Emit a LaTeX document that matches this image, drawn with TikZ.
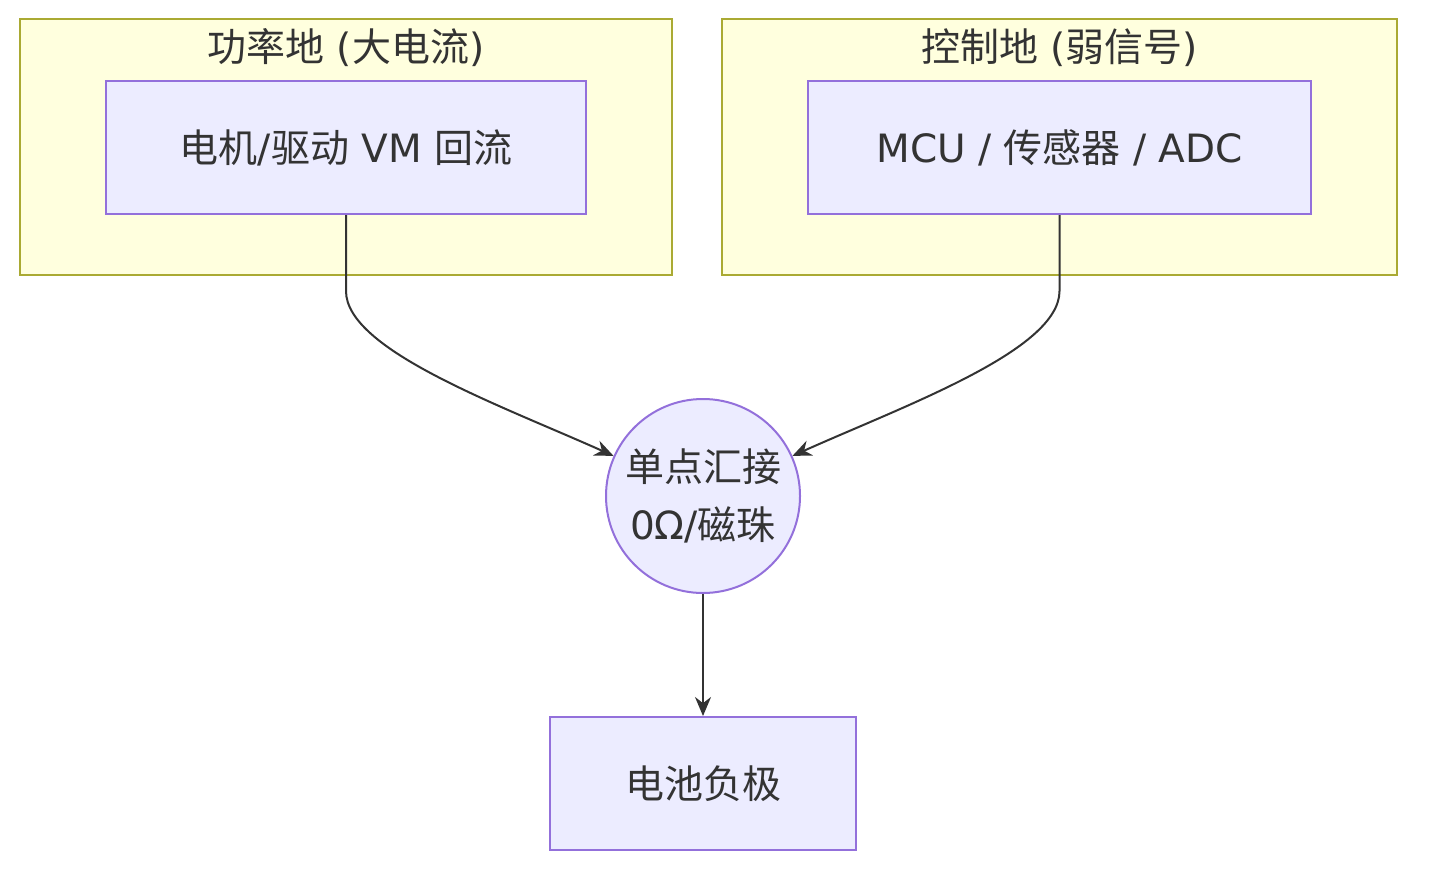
\documentclass[tikz,border=0pt]{standalone}
\usepackage{fontspec}
\setmainfont{DejaVu Sans}
\newfontfamily\cjk{Noto Sans CJK SC}
\usepackage{xcolor}
\definecolor{gndfill}{HTML}{FFFFDE}
\definecolor{gnddraw}{HTML}{AAAA33}
\definecolor{nodefill}{HTML}{ECECFF}
\definecolor{nodedraw}{HTML}{9370DB}
\definecolor{linkgray}{HTML}{333333}
\usetikzlibrary{arrows.meta, positioning}
\tikzset{
  gndbox/.style={draw=gnddraw, fill=gndfill, line width=1pt, inner sep=0pt},
  partbox/.style={draw=nodedraw, fill=nodefill, line width=1pt, inner sep=0pt,
    minimum height=66.5pt, text=linkgray, font=\fontsize{19.5}{24}\selectfont},
  gndtitle/.style={text=linkgray, font=\fontsize{19.5}{24}\selectfont},
  link/.style={->, draw=linkgray, line width=1pt}
}

\begin{document}
\begin{tikzpicture}[x=0.5pt, y=-0.5pt, >={Stealth[length=9.5pt, width=8pt]}]
      \useasboundingbox (0,0) rectangle (1438,883);
      % ground groups
      \node[gndbox, minimum width=326pt, minimum height=128pt] (pwrgnd) at (346,147) {};
      \node[gndbox, minimum width=337.5pt, minimum height=128pt] (ctlgnd) at (1059.5,147) {};
      \node[gndtitle] (pwrtitle) at (346,48) {{\cjk 功率地} ({\cjk 大电流})};
      \node[gndtitle] (ctltitle) at (1059.5,48) {{\cjk 控制地} ({\cjk 弱信号})};
      % parts
      \node[partbox, minimum width=240pt] (drv) at (346,147.5) {{\cjk 电机}/{\cjk 驱动} VM {\cjk 回流}};
      \node[partbox, minimum width=251.5pt] (mcu) at (1059.5,147.5) {MCU / {\cjk 传感器} / ADC};
      \node[partbox, circle, minimum size=97pt, align=center,
            font=\fontsize{19.5}{29}\selectfont] (junc) at (703,496) {{\cjk 单点汇接}\\0Ω/{\cjk 磁珠}};
      \node[partbox, minimum width=153pt] (batt) at (703,783.5) {{\cjk 电池负极}};
      % return paths
      \draw[link] (drv.south) -- ++(0,76) .. controls (346,350) and (500,405) .. (junc);
      \draw[link] (mcu.south) -- ++(0,76) .. controls (1059.5,350) and (906,405) .. (junc);
      \draw[link] (junc) -- (batt);
    \end{tikzpicture}
\end{document}
